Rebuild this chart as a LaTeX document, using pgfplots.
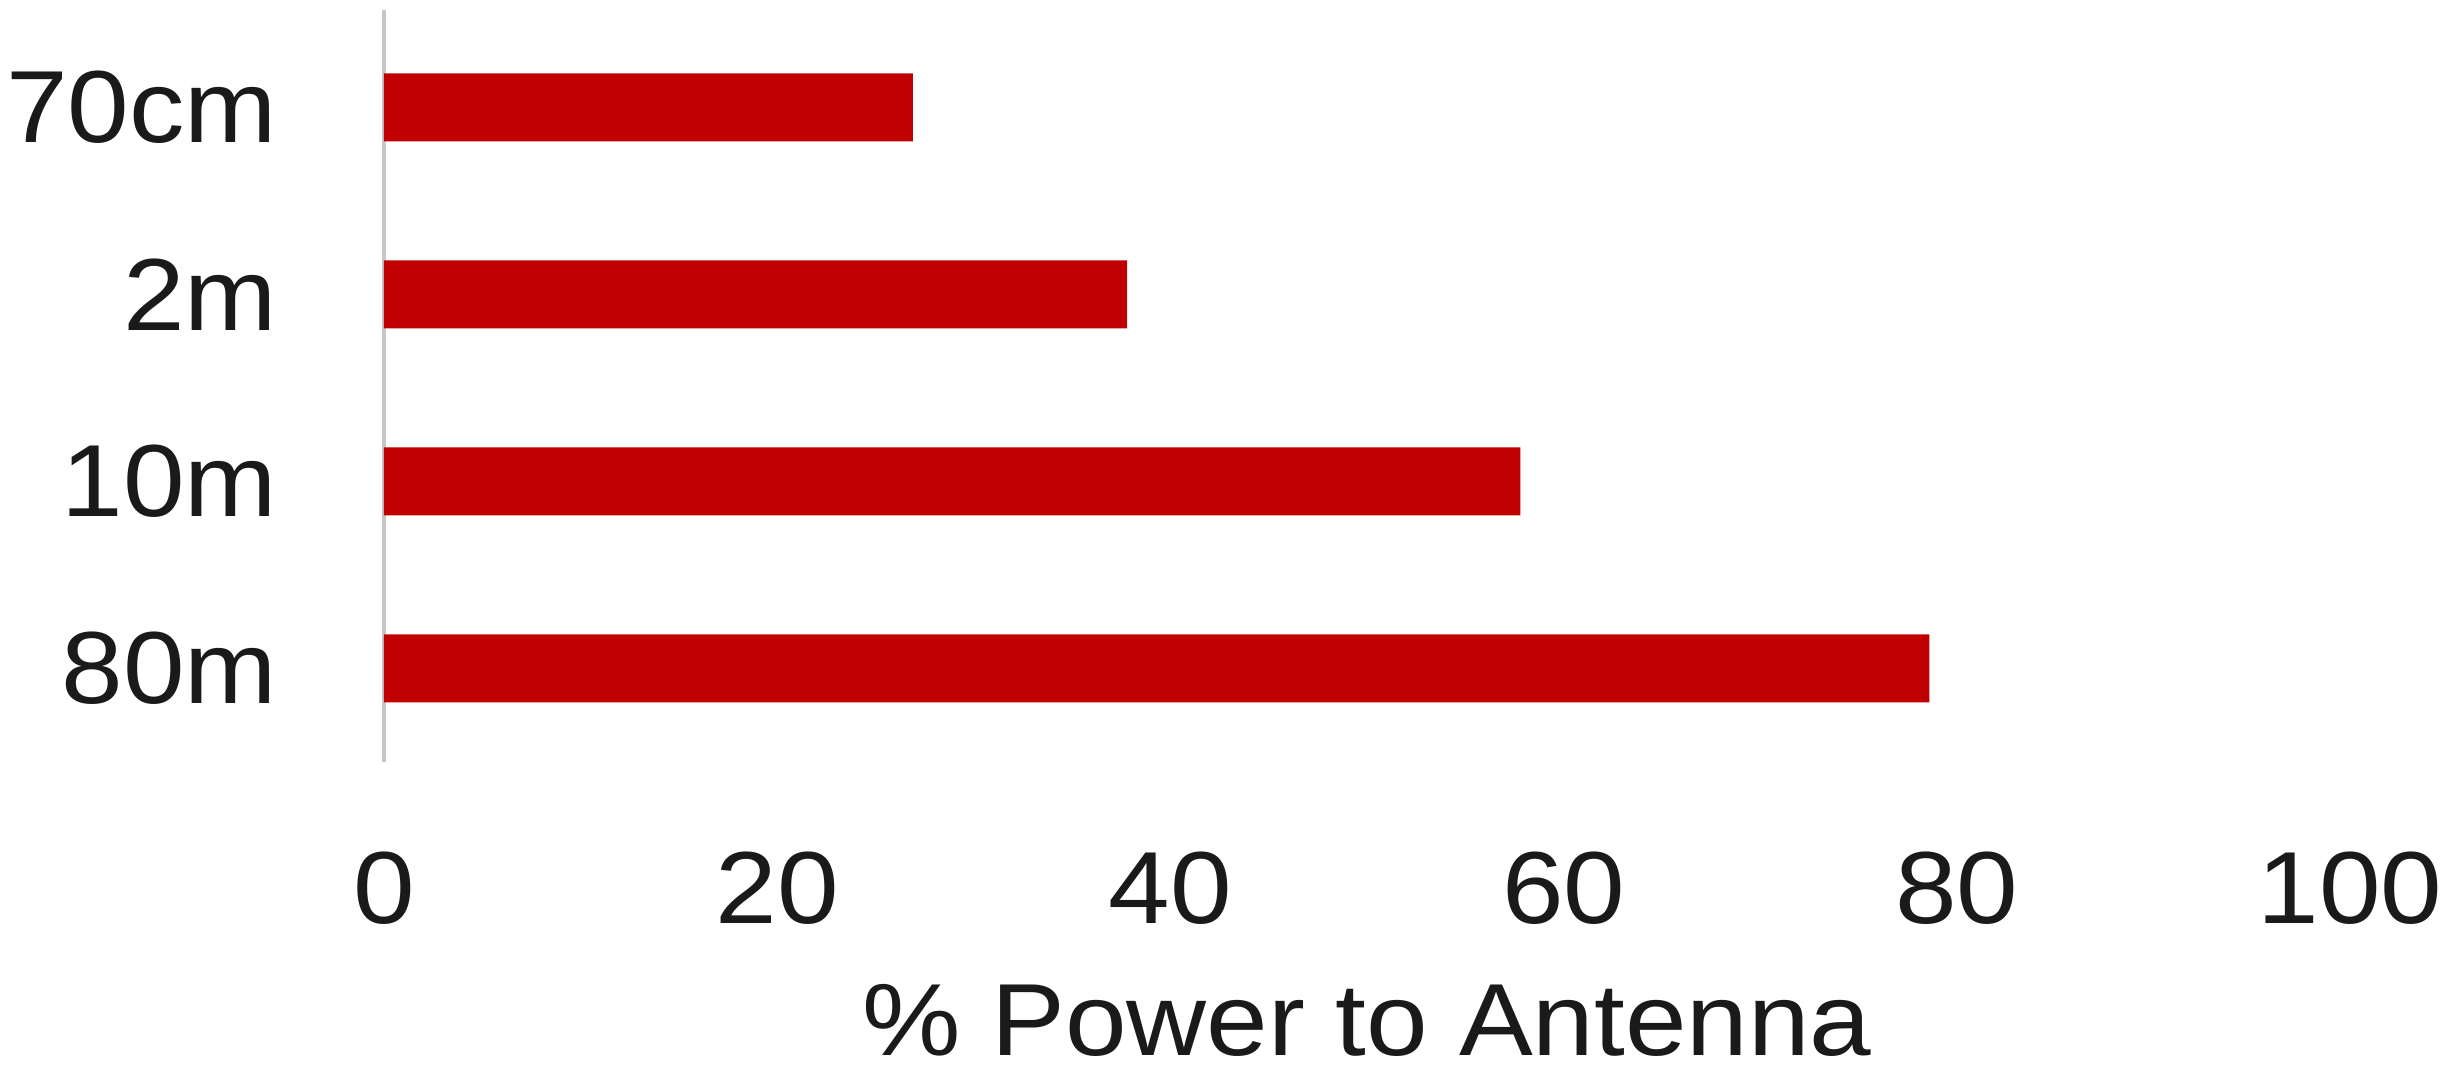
\documentclass[border=0pt]{standalone}
\usepackage{pgfplots}
\pgfplotsset{compat=1.18}
\usepackage{fontspec}
\setmainfont{Liberation Sans}[FakeStretch=1.08]
\definecolor{barred}{HTML}{C00000}
\definecolor{axgray}{HTML}{C8C8C8}
\definecolor{txt}{HTML}{1A1A1A}
\begin{document}
\begin{tikzpicture}
\begin{axis}[
  name=ax,
  scale only axis, width=393.2pt, height=150.4pt,
  xbar, bar width=13.6pt,
  xmin=0, xmax=100, ymin=-0.5, ymax=3.52,
  xtick={0,20,...,100}, ytick={0,1,2,3}, yticklabels={80m,10m,2m,70cm},
  separate axis lines,
  axis x line*=bottom, axis y line*=left,
  x axis line style={draw=none},
  y axis line style={draw=axgray, line width=0.8pt, -},
  major tick length=0pt, tick style={draw=none},
  /pgf/number format/assume math mode=true,
  tick label style={font=\fontsize{20.5}{24}\selectfont, text=txt},
  yticklabel style={anchor=east, inner sep=0pt, xshift=-21.2pt},
  xticklabel style={anchor=north, inner sep=0pt, yshift=-17.8pt},
  xlabel={\% Power to Antenna},
  xlabel style={font=\fontsize{20.5}{24}\selectfont, text=txt, at={(axis description cs:0.5,0)}, anchor=north, inner sep=0pt, yshift=-44.2pt},
]
\addplot[fill=barred, draw=none] coordinates {(78.6,0) (57.8,1) (37.8,2) (26.9,3)};
\end{axis}
\pgfresetboundingbox
\path ([shift={(-76.8pt,-61.4pt)}]ax.south west) rectangle ++(489pt,213.8pt);
\end{tikzpicture}
\end{document}
